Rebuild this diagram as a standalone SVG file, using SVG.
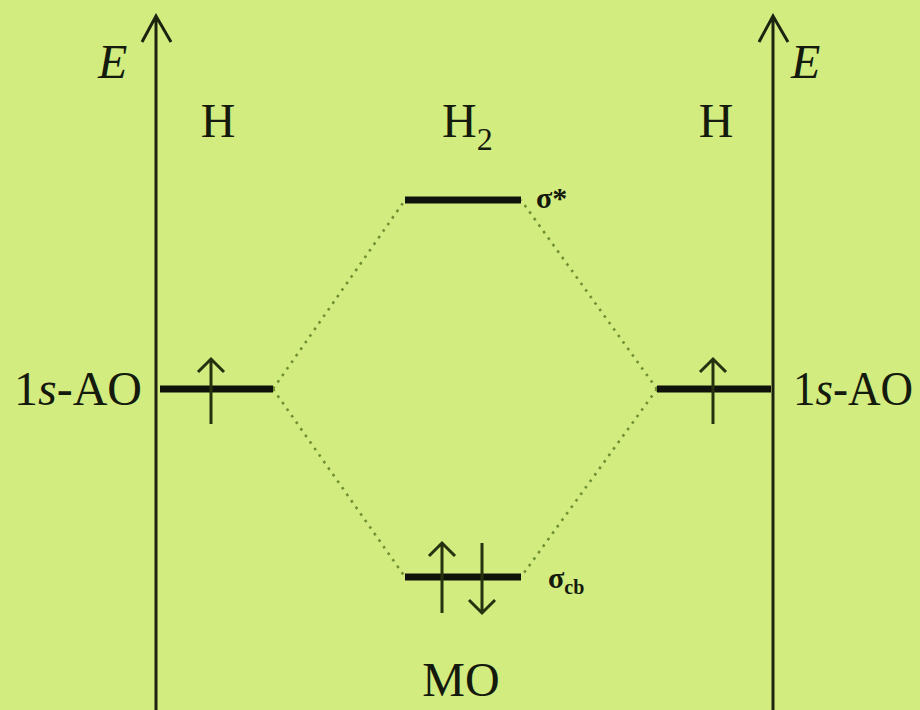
<svg xmlns="http://www.w3.org/2000/svg" width="920" height="710" viewBox="0 0 920 710">
<style>
.bg{fill:#d2ec80}
.axis{stroke:#1c2410;stroke-width:3;fill:none}
.level{stroke:#0e120a;stroke-width:7;fill:none}
.spin{stroke:#26320f;stroke-width:3;fill:none}
.dot{stroke:#6f8f33;stroke-width:2.6;stroke-dasharray:2.6 5.4;fill:none}
text{font-family:'Liberation Serif','Times New Roman','DejaVu Serif',serif;fill:#141a0c}
.big{font-size:48px}
.sm{font-size:30px;font-weight:bold}
</style>
<rect class="bg" x="0" y="0" width="920" height="710"/>
<g id="axis-left">
<path class="axis" d="M156,710 V16 M142,42 L156,16 L171,42"/>
<text class="big" x="98" y="78" font-style="italic">E</text>
</g>
<g id="axis-right">
<path class="axis" d="M773,710 V16 M759,42 L773,16 L788,42"/>
<text class="big" x="791" y="78" font-style="italic">E</text>
</g>
<g id="label-H-left"><text class="big" x="218" y="137" text-anchor="middle">H</text></g>
<g id="label-H2"><text class="big" x="442" y="137">H<tspan font-size="32" dy="13">2</tspan></text></g>
<g id="label-H-right"><text class="big" x="716" y="137" text-anchor="middle">H</text></g>
<g id="connectors">
<path class="dot" d="M273,389 L405,200 M273,389 L405,577 M657,389 L521,200 M657,389 L521,577"/>
</g>
<g id="sigma-star">
<path class="level" d="M405,200 H521"/>
<text class="sm" x="536" y="208">σ*</text>
</g>
<g id="ao-left">
<path class="level" d="M160,389 H273"/>
<path class="spin" d="M211,424 V359 M198,372 L211,359 L224,372"/>
<text class="big" x="14" y="405" textLength="128" lengthAdjust="spacingAndGlyphs">1<tspan font-style="italic">s</tspan>-AO</text>
</g>
<g id="ao-right">
<path class="level" d="M657,389 H771"/>
<path class="spin" d="M713,424 V359 M700,372 L713,359 L726,372"/>
<text class="big" x="793" y="405" textLength="120" lengthAdjust="spacingAndGlyphs">1<tspan font-style="italic">s</tspan>-AO</text>
</g>
<g id="sigma-cb">
<path class="level" d="M405,577 H521"/>
<path class="spin" d="M442,613 V543 M429,556 L442,543 L455,556"/>
<path class="spin" d="M482,543 V613 M469,600 L482,613 L495,600"/>
<text class="sm" x="548" y="588">σ<tspan font-size="20" dy="6">cb</tspan></text>
</g>
<g id="label-MO"><text class="big" x="461" y="696" text-anchor="middle">MO</text></g>
</svg>
